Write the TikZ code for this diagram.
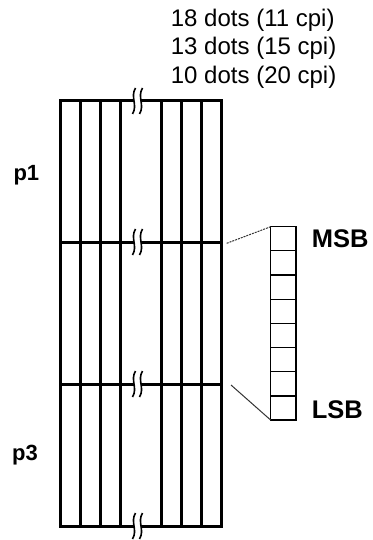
\documentclass[tikz,border=0pt]{standalone}
\usepackage{fontspec}
\setmainfont{Liberation Sans}
\usetikzlibrary{positioning}

% break mark drawn across a grid line
\newcommand{\gapmark}[2]{%
  \begin{scope}[shift={(#1,#2)}]
    \fill[white] (-2,-13) .. controls (-7.5,-4) and (0.5,4) .. (-5,13) -- (2,13) .. controls (7.5,4) and (-0.5,-4) .. (5,-13) -- cycle;
    \draw[line width=1.6pt] (-2,-13) .. controls (-7.5,-4) and (0.5,4) .. (-5,13);
    \draw[line width=1.6pt] (5,-13) .. controls (-0.5,-4) and (7.5,4) .. (2,13);
  \end{scope}}

\begin{document}
\begin{tikzpicture}[x=1pt,y=-1pt,
  gridline/.style={line width=3pt},
  bitbox/.style={draw,line width=1.2pt,minimum width=25.3pt,minimum height=24.17pt,inner sep=0pt,outer sep=0pt},
  lead/.style={draw=black!80,line width=1pt},
  dotlbl/.style={font=\fontsize{24}{24}\selectfont,anchor=base west,inner sep=0pt},
  sidelbl/.style={font=\bfseries\fontsize{25.5}{25.5}\selectfont,anchor=base west,inner sep=0pt},
  rowlbl/.style={font=\bfseries\fontsize{22}{22}\selectfont,anchor=base west,inner sep=0pt}]
\useasboundingbox (0,0) rectangle (372,540);

\node[dotlbl] (d18) at (170.7,26.7) {18 dots (11 cpi)};
\node[dotlbl] (d13) at (170.7,55) {13 dots (15 cpi)};
\node[dotlbl] (d10) at (170.7,83.5) {10 dots (20 cpi)};

% dot grid
\foreach \x in {80,100,120,161,181,201} \draw[gridline] (\x,101) -- (\x,526);
\foreach \y in {242,384} \draw[gridline] (60,\y) -- (221,\y);
\draw[gridline] (60,101) rectangle (221,526);
\foreach \y in {101,242,384,526} \gapmark{137.5}{\y};

\node[rowlbl] (p1) at (13.3,180) {p1};
\node[rowlbl] (p3) at (12,460) {p3};

% one byte column
\node[bitbox] (b1) at (283.35,238.8) {};
\foreach \i [count=\j from 2] in {1,...,7} \node[bitbox,below=0pt of b\i] (b\j) {};

\coordinate (m1) at (226.7,243.3);
\coordinate (m2) at (231,385);
\draw[lead,dash pattern=on 2pt off 1pt] (m1) -- (b1.north west);
\draw[lead] (m2) -- (b8.south west);

\node[sidelbl] (msb) at (311.7,247) {MSB};
\node[sidelbl] (lsb) at (311.7,418) {LSB};
\end{tikzpicture}
\end{document}
